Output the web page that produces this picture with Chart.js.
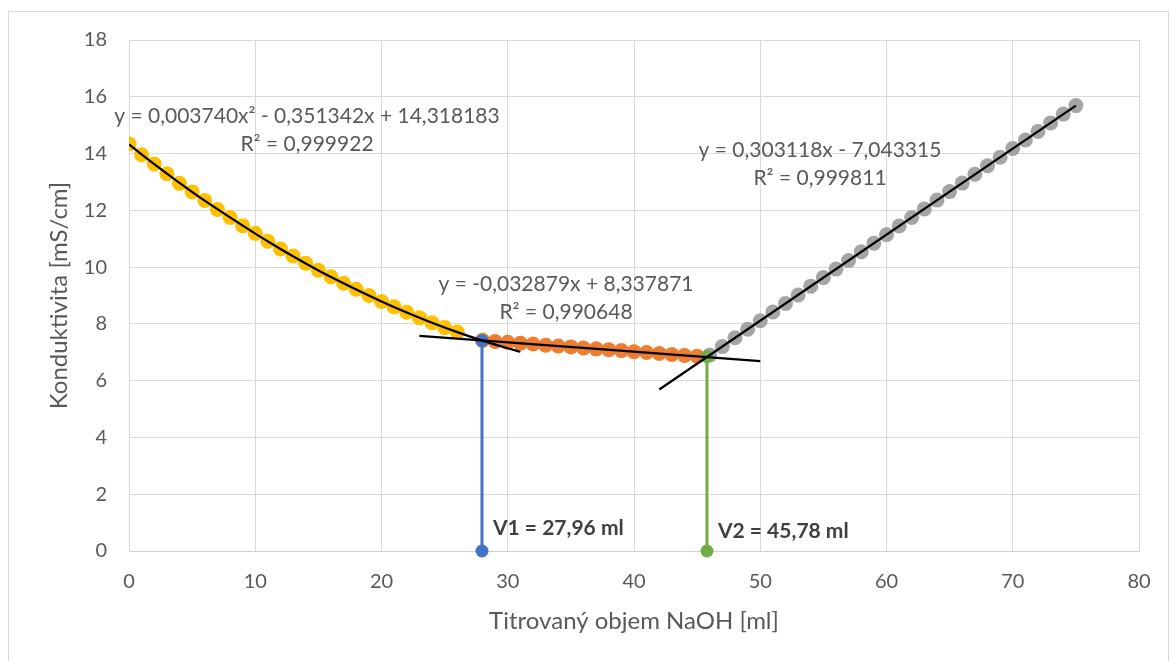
<!DOCTYPE html>
<html>
<head>
<meta charset="utf-8">
<script src="https://cdn.jsdelivr.net/npm/chart.js@4.4.0/dist/chart.umd.min.js"></script>
<style>
  html, body { margin: 0; padding: 0; background: #fff; }
  #wrap { position: relative; width: 1170px; height: 661px; }
</style>
</head>
<body>
<div id="wrap"><canvas id="chart" width="1170" height="661"></canvas></div>
<script>
// Titration readings: x = added NaOH [ml], y = conductivity [mS/cm]
const yellowX = [0, 1, 2, 3, 4, 5, 6, 7, 8, 9, 10, 11, 12, 13, 14, 15, 16, 17, 18, 19, 20, 21, 22, 23, 24, 25, 26];
const yellowY = [14.34, 13.96, 13.63, 13.29, 12.95, 12.65, 12.35, 12.03, 11.75, 11.46, 11.19, 10.91, 10.64, 10.39,
  10.14, 9.89, 9.66, 9.43, 9.22, 9.00, 8.79, 8.60, 8.41, 8.22, 8.04, 7.87, 7.71];

const orangeX = [28, 29, 30, 31, 32, 33, 34, 35, 36, 37, 38, 39, 40, 41, 42, 43, 44, 45];
const orangeY = [7.42, 7.38, 7.35, 7.32, 7.29, 7.25, 7.22, 7.19, 7.15, 7.12, 7.09, 7.06, 7.02, 6.99, 6.96, 6.92, 6.89, 6.86];

const grayX = [46, 47, 48, 49, 50, 51, 52, 53, 54, 55, 56, 57, 58, 59, 60, 61, 62, 63, 64, 65, 66, 67, 68, 69, 70, 71, 72, 73, 74, 75];
const grayY = [6.90, 7.20, 7.51, 7.81, 8.11, 8.42, 8.72, 9.02, 9.33, 9.63, 9.93, 10.23, 10.54, 10.84, 11.14, 11.45,
  11.75, 12.05, 12.36, 12.66, 12.96, 13.27, 13.57, 13.87, 14.18, 14.48, 14.78, 15.08, 15.39, 15.69];

// trendlines
const quadTrendX = [0, 2, 4, 6, 8, 10, 12, 14, 16, 18, 20, 22, 24, 26, 28, 30, 31];
const quadTrendY = [14.32, 13.63, 12.97, 12.34, 11.75, 11.18, 10.64, 10.13, 9.65, 9.21, 8.79, 8.40, 8.04, 7.71, 7.41, 7.14, 7.02];
const midTrendX = [23, 50];
const midTrendY = [7.58, 6.69];
const riseTrendX = [42, 75];
const riseTrendY = [5.69, 15.69];

// equivalence points
const eqX = [27.96, 45.78];
const eqY = [7.41, 6.85];
const eqLabels = ['V1 = 27,96 ml', 'V2 = 45,78 ml'];

const xTicks = [0, 10, 20, 30, 40, 50, 60, 70, 80];
const yTicks = [0, 2, 4, 6, 8, 10, 12, 14, 16, 18];

const fitLabels = [
  ['y = 0,003740x\u00b2 - 0,351342x + 14,318183', 'R\u00b2 = 0,999922'],
  ['y = -0,032879x + 8,337871', 'R\u00b2 = 0,990648'],
  ['y = 0,303118x - 7,043315', 'R\u00b2 = 0,999811']
];

const FONT = 'Lato, "Open Sans", sans-serif';
const TEXT = '#595959';

const pts = (xs, ys) => xs.map((x, i) => ({ x, y: ys[i] }));

function markers(xs, ys, color, order) {
  return {
    data: pts(xs, ys), showLine: false, order,
    pointRadius: 7.5, pointHoverRadius: 7.5, pointBorderWidth: 0,
    backgroundColor: color, borderColor: color
  };
}
function trend(xs, ys) {
  return {
    data: pts(xs, ys), showLine: true, order: 0,
    borderColor: '#000', borderWidth: 2.2, pointRadius: 0,
    cubicInterpolationMode: 'monotone', fill: false
  };
}
function dropLine(i, color) {
  return {
    data: [{ x: eqX[i], y: eqY[i] }, { x: eqX[i], y: 0 }],
    showLine: true, order: 1, clip: false,
    borderColor: color, borderWidth: 3,
    backgroundColor: color, pointRadius: 6.5, pointBorderWidth: 0
  };
}

const annotate = {
  id: 'annotate',
  beforeDraw(chart) {
    const ctx = chart.ctx;
    ctx.save();
    ctx.fillStyle = '#fff';
    ctx.fillRect(0, 0, chart.width, chart.height);
    ctx.strokeStyle = '#d9d9d9';
    ctx.lineWidth = 1;
    ctx.strokeRect(8.5, 11.5, 1160, 700);
    ctx.restore();
  },
  afterDraw(chart) {
    const ctx = chart.ctx;
    ctx.save();
    ctx.fillStyle = TEXT;
    ctx.font = '21px ' + FONT;
    ctx.textAlign = 'center';
    ctx.textBaseline = 'middle';
    const spots = [[307, 116], [566, 284], [820, 150]];
    fitLabels.forEach((lines, i) => {
      lines.forEach((t, j) => ctx.fillText(t, spots[i][0], spots[i][1] + j * 28));
    });

    const xs = chart.scales.x, ys = chart.scales.y;
    ctx.font = 'bold 21px ' + FONT;
    ctx.fillStyle = '#404040';
    ctx.textAlign = 'left';
    const off = [[11, -23], [11, -20]];
    eqLabels.forEach((t, i) => {
      ctx.fillText(t, xs.getPixelForValue(eqX[i]) + off[i][0], ys.getPixelForValue(0) + off[i][1]);
    });
    ctx.restore();
  }
};

new Chart(document.getElementById('chart'), {
  type: 'scatter',
  data: {
    datasets: [
      trend(quadTrendX, quadTrendY),
      trend(midTrendX, midTrendY),
      trend(riseTrendX, riseTrendY),
      dropLine(0, '#4472C4'),
      dropLine(1, '#70AD47'),
      markers(yellowX, yellowY, '#FFC000', 2),
      markers(orangeX, orangeY, '#ED7D31', 3),
      markers(grayX, grayY, '#A5A5A5', 4)
    ]
  },
  options: {
    responsive: false,
    animation: false,
    devicePixelRatio: 1,
    layout: { padding: { top: 40, right: 31, left: 0, bottom: 0 } },
    plugins: { legend: { display: false }, tooltip: { enabled: false } },
    scales: {
      x: {
        type: 'linear', min: 0, max: 80,
        afterBuildTicks: s => { s.ticks = xTicks.map(v => ({ value: v })); },
        afterFit: s => { s.height = 110; },
        grid: { color: '#d9d9d9', drawTicks: false },
        border: { color: '#d0d0d0' },
        ticks: { color: TEXT, font: { family: FONT, size: 20 }, padding: 19 },
        title: {
          display: true, text: 'Titrovaný objem NaOH [ml]', color: TEXT,
          font: { family: FONT, size: 24 }, padding: { top: 0, bottom: 25 }
        }
      },
      y: {
        type: 'linear', min: 0, max: 18,
        afterBuildTicks: s => { s.ticks = yTicks.map(v => ({ value: v })); },
        afterFit: s => { s.width = 129; },
        grid: { color: '#d9d9d9', drawTicks: false },
        border: { color: '#d9d9d9' },
        ticks: { color: TEXT, font: { family: FONT, size: 20 }, padding: 22 },
        title: {
          display: true, text: 'Konduktivita [mS/cm]', color: TEXT,
          font: { family: FONT, size: 24 }, padding: { top: 45, bottom: 0 }
        }
      }
    }
  },
  plugins: [annotate]
});
</script>
</body>
</html>
